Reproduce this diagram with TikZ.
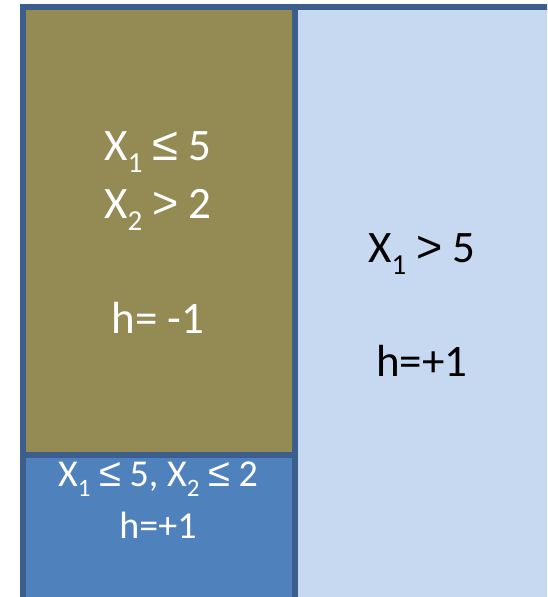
\documentclass[tikz,border=0pt]{standalone}
\usepackage{fontspec}
\setmainfont{Carlito}
\newfontfamily\symf{Liberation Sans}
\definecolor{olivefill}{HTML}{948A54}
\definecolor{darkbluefill}{HTML}{4F81BD}
\definecolor{lightbluefill}{HTML}{C6D9F1}
\definecolor{borderblue}{HTML}{3B5E8C}
\newcommand{\sbx}[1]{\raisebox{-0.27em}{\fontsize{29}{29}\selectfont #1}}
\newcommand{\sbs}[1]{\raisebox{-0.27em}{\fontsize{25}{25}\selectfont #1}}
\newcommand{\lesym}{{\symf\scalebox{1.05}{≤}}}
\newcommand{\gtsym}{{\symf\scalebox{1.0}{>}}}
\tikzset{
  region/.style={draw=borderblue, line width=6pt},
  bigtxt/.style={anchor=base, inner sep=0pt, font=\fontsize{45}{54}\selectfont},
  smalltxt/.style={anchor=base, inner sep=0pt, font=\fontsize{38}{46}\selectfont},
}
\begin{document}
\begin{tikzpicture}[x=1pt,y=-1pt]
\useasboundingbox (0,0) rectangle (547,597);
\clip (0,0) rectangle (547,597);
\fill[white] (0,0) rectangle (547,597);
% regions
\filldraw[region, fill=lightbluefill] (295,7) rectangle (553,599.5);
\filldraw[region, fill=olivefill] (23,7) rectangle (295,454.5);
\filldraw[region, fill=darkbluefill] (23,454.5) rectangle (295,599.5);
% texts
\node[bigtxt, text=white] (a1) at (158,160.7) {X\sbx{1} \lesym{} 5};
\node[bigtxt, text=white] (a2) at (158,218) {X\sbx{2} \gtsym{} 2};
\node[bigtxt, text=white] (a3) at (158,333) {h= -1};
\node[bigtxt, text=black] (b1) at (422,262.3) {X\sbx{1} \gtsym{} 5};
\node[bigtxt, text=black] (b2) at (422,376.7) {h=+1};
\node[smalltxt, text=white] (c1) at (158,486) {X\sbs{1} \lesym{} 5, X\sbs{2} \lesym{} 2};
\node[smalltxt, text=white] (c2) at (158,538.3) {h=+1};
\end{tikzpicture}
\end{document}
